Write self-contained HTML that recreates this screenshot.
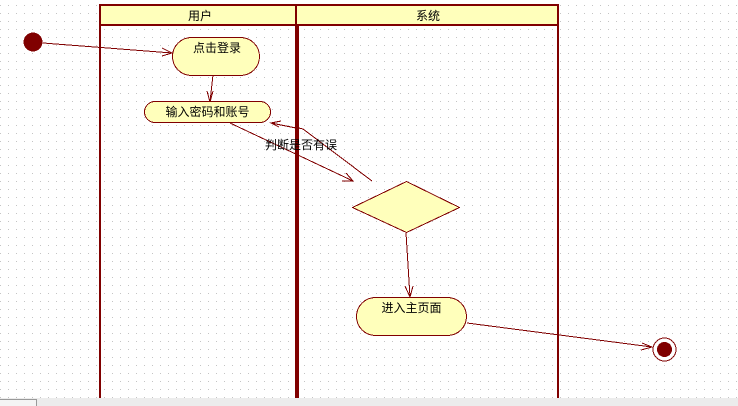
<!DOCTYPE html>
<html>
<head>
<meta charset="utf-8">
<style>
html,body{margin:0;padding:0;background:#fff;width:738px;height:406px;overflow:hidden}
svg{display:block}
text{font-family:"WenQuanYi Zen Hei","Liberation Sans","Noto Sans CJK SC",sans-serif;font-size:12px;fill:#000;text-anchor:middle}
.c{shape-rendering:crispEdges}
</style>
</head>
<body>
<svg width="738" height="406" viewBox="0 0 738 406" xmlns="http://www.w3.org/2000/svg">
<defs>
<pattern id="g" x="0" y="5" width="8" height="8" patternUnits="userSpaceOnUse">
<rect x="0" y="0" width="1" height="1" fill="#c4c4c4"/>
</pattern>
</defs>
<rect width="738" height="406" fill="#fff"/>
<rect width="738" height="398" fill="url(#g)"/>

<!-- swimlanes -->
<rect x="100" y="5" width="458" height="20" fill="#ffffbb"/>
<g fill="#800000">
<rect x="99" y="4" width="460" height="2"/>
<rect x="99" y="24" width="460" height="2"/>
<rect x="99" y="4" width="2" height="394"/>
<rect x="295" y="4" width="2" height="22"/>
<rect x="295" y="26" width="4" height="372"/>
<rect x="557" y="4" width="2" height="394"/>
</g>
<text x="200" y="20">用户</text>
<text x="428" y="20">系统</text>

<!-- connectors -->
<g class="c" fill="none" stroke="#800000" stroke-width="1">
<path d="M43 43 L172 53"/>
<path d="M162 48 L172 53 L162 56"/>
<path d="M213 75 L210 102"/>
<path d="M207 91 L210 102 L213 91"/>
<path d="M230 123 L353 181"/>
<path d="M342 181 L353 181 L346 173"/>
<path d="M372 181 L303 129 Q300 128 296 128 L271 123"/>
<path d="M281 121 L271 123 L279 127"/>
<path d="M406 233 L410 297"/>
<path d="M405 286 L410 297 L413 286"/>
<path d="M467 323 L652 347"/>
<path d="M642 343 L652 347 L641 350"/>
</g>

<!-- start -->
<circle class="c" cx="33" cy="42" r="9.500" fill="#800000"/>

<!-- activities -->
<g class="c" fill="#ffffbb" stroke="#800000" stroke-width="1">
<rect x="172.500" y="37.500" width="87" height="38" rx="19" ry="19"/>
<rect x="144.500" y="101.500" width="126" height="21" rx="10.500" ry="10.500"/>
<polygon points="406.500,181.500 459.500,207.500 406.500,232.500 352.500,207.500"/>
<rect x="356.500" y="297.500" width="110" height="38" rx="19" ry="19"/>
</g>
<text x="217" y="52">点击登录</text>
<text x="207.500" y="116">输入密码和账号</text>
<text x="411.500" y="312">进入主页面</text>
<text x="301" y="149">判断是否有误</text>

<!-- end -->
<circle class="c" cx="664.500" cy="349.500" r="11.500" fill="#fff" stroke="#800000" stroke-width="1"/>
<circle class="c" cx="664.500" cy="349.500" r="7.500" fill="#800000"/>

<!-- bottom bar -->
<rect x="0" y="398" width="738" height="8" fill="#ececec"/>
<rect x="0" y="399" width="36" height="7" fill="#f4f4f4"/>
<path class="c" d="M0 399.500 H36.500 V406" fill="none" stroke="#999" stroke-width="1"/>
</svg>
</body>
</html>
